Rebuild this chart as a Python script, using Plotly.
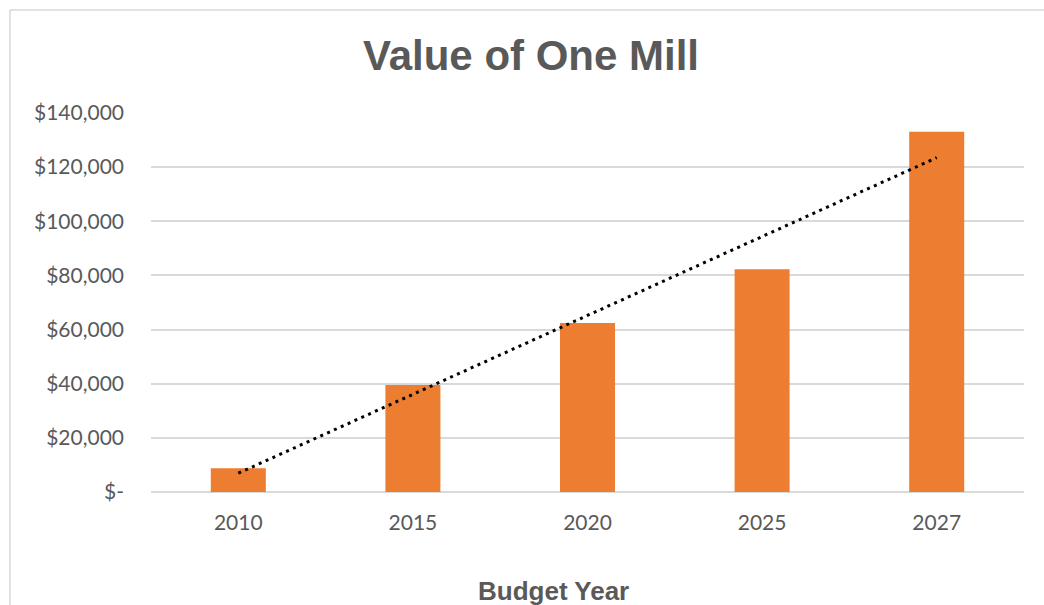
import numpy as np
import plotly.graph_objects as go

years = ["2010", "2015", "2020", "2025", "2027"]
values = [8800, 39500, 62400, 82300, 133100]
y_ticks = [0, 20000, 40000, 60000, 80000, 100000, 120000, 140000]
y_labels = ["$-", "$20,000", "$40,000", "$60,000", "$80,000", "$100,000", "$120,000", "$140,000"]

# Linear trendline as in Excel (fitted on category index 1..n)
idx = np.arange(1, len(values) + 1)
slope, intercept = np.polyfit(idx, values, 1)
trend = slope * idx + intercept

W, H = 1044, 605
ml, mr, mt, mb = 151, 20, 113, 113
pw = W - ml - mr
ph = H - mt - mb

fig = go.Figure()
fig.add_trace(go.Bar(x=years, y=values, marker=dict(color="#ED7D31", line=dict(width=0)),
                     hoverinfo="skip"))
fig.add_trace(go.Scatter(x=years, y=trend, mode="lines",
                         line=dict(color="black", width=3, dash="3px,4.5px"),
                         hoverinfo="skip"))

def px_x(p):
    return (p - ml) / pw

def px_y(p):
    return 1 - (p - mt) / ph

fig.update_layout(
    width=W, height=H,
    margin=dict(l=ml, r=mr, t=mt, b=mb),
    paper_bgcolor="white", plot_bgcolor="white",
    showlegend=False,
    bargap=0.685,
    title=dict(text="<b>Value of One Mill</b>", x=531 / W, xanchor="center",
               y=1 - 55 / H, yanchor="middle",
               font=dict(family="Liberation Sans, Arial", size=42, color="#595959")),
    xaxis=dict(type="category", showgrid=False, showline=False, zeroline=False,
               tickfont=dict(family="Lato, Calibri", size=21, color="#595959"),
               ticks="", ticklabelstandoff=16),
    yaxis=dict(range=[0, 140000], tickvals=y_ticks, ticktext=y_labels,
               showgrid=True, gridcolor="#D9D9D9", gridwidth=1.5,
               zeroline=True, zerolinecolor="#D9D9D9", zerolinewidth=1.5,
               showline=False, ticks="", ticklabelstandoff=26,
               tickfont=dict(family="Lato, Calibri", size=21, color="#595959")),
    annotations=[
        dict(text="<b>Budget Year</b>", xref="paper", yref="paper",
             x=px_x(553), y=px_y(591), xanchor="center", yanchor="middle",
             showarrow=False,
             font=dict(family="Liberation Sans, Arial", size=26, color="#595959")),
    ],
    shapes=[
        dict(type="line", xref="paper", yref="paper",
             x0=px_x(10), x1=px_x(10), y0=px_y(10), y1=px_y(H + 20),
             line=dict(color="#D9D9D9", width=1.5)),
        dict(type="line", xref="paper", yref="paper",
             x0=px_x(10), x1=px_x(W + 20), y0=px_y(10), y1=px_y(10),
             line=dict(color="#D9D9D9", width=1.5)),
    ],
)

fig.write_html("out.html")
